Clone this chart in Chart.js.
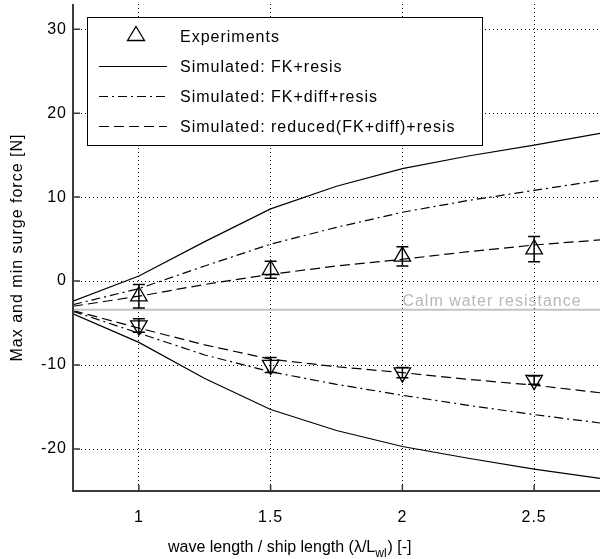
<!DOCTYPE html>
<html>
<head>
<meta charset="utf-8">
<script src="https://cdn.jsdelivr.net/npm/chart.js@4.4.1/dist/chart.umd.min.js"></script>
<style>
  html, body { margin: 0; padding: 0; background: #fff; overflow: hidden; }
  #wrap { width: 600px; height: 559px; position: relative; }
</style>
</head>
<body>
<div id="wrap"><canvas id="chart"></canvas></div>
<script>
// wave length / ship length values where the simulations are drawn
const lambdaRatio = [0.75, 1, 1.25, 1.5, 1.75, 2, 2.25, 2.5, 2.75];

// simulated max / min surge force [N]
const fkResisMax = [-2.4, 0.6, 4.7, 8.6, 11.3, 13.4, 14.9, 16.2, 17.6];
const fkResisMin = [-3.9, -7.3, -11.6, -15.3, -17.8, -19.7, -21.1, -22.4, -23.5];
const fkDiffMax = [-2.8, -0.9, 1.8, 4.4, 6.4, 8.2, 9.6, 10.8, 12.0];
const fkDiffMin = [-3.6, -6.2, -8.8, -10.8, -12.3, -13.6, -14.8, -15.9, -16.9];
const reducedMax = [-3.0, -1.8, -0.4, 0.8, 1.8, 2.6, 3.5, 4.3, 4.9];
const reducedMin = [-3.5, -5.6, -7.6, -9.3, -10.2, -10.9, -11.7, -12.4, -13.3];

const calmWater = -3.4;

// experiments
const expLambda = [1, 1.5, 2, 2.5];
const expMax = [-1.8, 1.35, 2.95, 3.8];
const expMaxErr = [1.4, 1.0, 1.15, 1.5];
const expMin = [-5.3, -10.0, -10.9, -11.8];
const expMinErr = [0.8, 0.9, 0.6, 0.5];

const xTicks = [1, 1.5, 2, 2.5];
const yTicks = [-20, -10, 0, 10, 20, 30];

const legendLabels = [
    'Experiments',
    'Simulated: FK+resis',
    'Simulated: FK+diff+resis',
    'Simulated: reduced(FK+diff)+resis'
];

const FONT = '"Liberation Sans", Arial, sans-serif';
const DASHDOT = [9, 4, 2, 4];
const DASHED = [10, 5];

function pts(xs, ys) {
    return xs.map((x, i) => ({ x: x, y: ys[i] }));
}

function curve(values, dash) {
    return {
        data: pts(lambdaRatio, values),
        borderColor: '#000',
        borderWidth: 1.2,
        borderDash: dash,
        pointRadius: 0,
        tension: 0,
        fill: false
    };
}

function expSet(values, rotation) {
    return {
        data: pts(expLambda, values),
        showLine: false,
        pointStyle: 'triangle',
        pointRadius: 9.5,
        pointRotation: rotation,
        pointBorderColor: '#000',
        pointBackgroundColor: 'rgba(0,0,0,0)',
        pointBorderWidth: 1.3
    };
}

// error bars, axis lines, inward ticks, labels and legend
const extras = {
    id: 'extras',
    beforeDraw(chart) {
        chart.ctx.letterSpacing = '1px';
    },
    afterDatasetsDraw(chart) {
        const ctx = chart.ctx;
        const xs = chart.scales.x, ys = chart.scales.y;
        const area = chart.chartArea;
        ctx.save();

        // error bars
        ctx.strokeStyle = '#000';
        ctx.lineWidth = 1.5;
        const bars = [[expMax, expMaxErr], [expMin, expMinErr]];
        bars.forEach(([vals, errs]) => {
            expLambda.forEach((lx, i) => {
                const px = xs.getPixelForValue(lx);
                const top = ys.getPixelForValue(vals[i] + errs[i]);
                const bot = ys.getPixelForValue(vals[i] - errs[i]);
                ctx.beginPath();
                ctx.moveTo(px, top); ctx.lineTo(px, bot);
                ctx.moveTo(px - 6, top); ctx.lineTo(px + 6, top);
                ctx.moveTo(px - 6, bot); ctx.lineTo(px + 6, bot);
                ctx.stroke();
            });
        });

        // calm water label
        ctx.font = '16px ' + FONT;
        ctx.fillStyle = '#b8b8b8';
        ctx.textBaseline = 'alphabetic';
        ctx.textAlign = 'left';
        ctx.fillText('Calm water resistance', xs.getPixelForValue(2), ys.getPixelForValue(calmWater) - 4);

        // axis lines
        ctx.strokeStyle = '#3a3a3a';
        ctx.lineWidth = 2;
        ctx.beginPath();
        ctx.moveTo(area.left, area.top);
        ctx.lineTo(area.left, area.bottom);
        ctx.lineTo(area.right, area.bottom);
        ctx.stroke();

        // inward ticks
        ctx.lineWidth = 1.5;
        ctx.beginPath();
        yTicks.forEach(v => {
            const py = ys.getPixelForValue(v);
            ctx.moveTo(area.left, py); ctx.lineTo(area.left + 7, py);
        });
        xTicks.forEach(v => {
            const px = xs.getPixelForValue(v);
            ctx.moveTo(px, area.bottom); ctx.lineTo(px, area.bottom - 6);
        });
        ctx.stroke();

        // x axis title with subscript
        ctx.letterSpacing = '0px';
        ctx.fillStyle = '#000';
        ctx.font = '16px ' + FONT;
        let tx = 168;
        const base = 552;
        const partA = 'wave length / ship length (\u03bb/L';
        ctx.fillText(partA, tx, base);
        tx += ctx.measureText(partA).width;
        ctx.font = '12px ' + FONT;
        ctx.fillText('wl', tx, base + 5);
        tx += ctx.measureText('wl').width + 1;
        ctx.font = '16px ' + FONT;
        ctx.fillText(') [-]', tx, base);
        ctx.letterSpacing = '1px';

        // legend
        ctx.fillStyle = '#fff';
        ctx.fillRect(87, 17, 395, 128);
        ctx.strokeStyle = '#000';
        ctx.lineWidth = 1;
        ctx.strokeRect(87.5, 17.5, 395, 128);

        ctx.lineWidth = 1.3;
        ctx.beginPath();
        ctx.moveTo(136, 26.5);
        ctx.lineTo(144.5, 40.5);
        ctx.lineTo(127.5, 40.5);
        ctx.closePath();
        ctx.stroke();

        const rowY = [66, 96, 126];
        const dashes = [[], DASHDOT, DASHED];
        ctx.lineWidth = 1.2;
        rowY.forEach((y, i) => {
            ctx.setLineDash(dashes[i]);
            ctx.beginPath();
            ctx.moveTo(99, y + 0.5);
            ctx.lineTo(167, y + 0.5);
            ctx.stroke();
        });
        ctx.setLineDash([]);

        ctx.fillStyle = '#000';
        ctx.font = '16px ' + FONT;
        ctx.textBaseline = 'middle';
        ctx.fillText(legendLabels[0], 180, 38);
        rowY.forEach((y, i) => ctx.fillText(legendLabels[i + 1], 180, y + 2));

        ctx.restore();
    }
};

new Chart(document.getElementById('chart').getContext('2d'), {
    type: 'line',
    data: {
        datasets: [
            {
                data: pts([0.75, 2.75], [calmWater, calmWater]),
                borderColor: '#c4c4c4',
                borderWidth: 2,
                pointRadius: 0
            },
            curve(fkResisMax, []),
            curve(fkResisMin, []),
            curve(fkDiffMax, DASHDOT),
            curve(fkDiffMin, DASHDOT),
            curve(reducedMax, DASHED),
            curve(reducedMin, DASHED),
            expSet(expMax, 0),
            expSet(expMin, 180)
        ]
    },
    options: {
        responsive: true,
        maintainAspectRatio: false,
        animation: false,
        devicePixelRatio: 1,
        layout: { autoPadding: false, padding: { top: 4, right: 0, left: 0, bottom: 0 } },
        plugins: {
            legend: { display: false },
            tooltip: { enabled: false }
        },
        scales: {
            x: {
                type: 'linear',
                min: 0.75,
                max: 2.75,
                afterBuildTicks: s => { s.ticks = xTicks.map(v => ({ value: v })); },
                afterFit: s => { s.height = 68; s.paddingLeft = 0; s.paddingRight = 0; },
                ticks: {
                    color: '#000',
                    padding: 17,
                    font: { family: FONT, size: 16 },
                    callback: v => String(v)
                },
                grid: { color: '#000', lineWidth: 1, drawTicks: false },
                border: { display: false, dash: [1, 3] }
            },
            y: {
                type: 'linear',
                min: -25,
                max: 33,
                afterBuildTicks: s => { s.ticks = yTicks.map(v => ({ value: v })); },
                afterFit: s => { s.width = 73; s.paddingTop = 0; s.paddingBottom = 0; },
                ticks: {
                    color: '#000',
                    padding: 6,
                    font: { family: FONT, size: 16 },
                    callback: v => String(v)
                },
                grid: { color: '#000', lineWidth: 1, drawTicks: false },
                border: { display: false, dash: [1, 3] },
                title: {
                    display: true,
                    text: 'Max and min surge force [N]',
                    color: '#000',
                    font: { family: FONT, size: 16 },
                    padding: { top: 8, bottom: 0 }
                }
            }
        }
    },
    plugins: [extras]
});
</script>
</body>
</html>
